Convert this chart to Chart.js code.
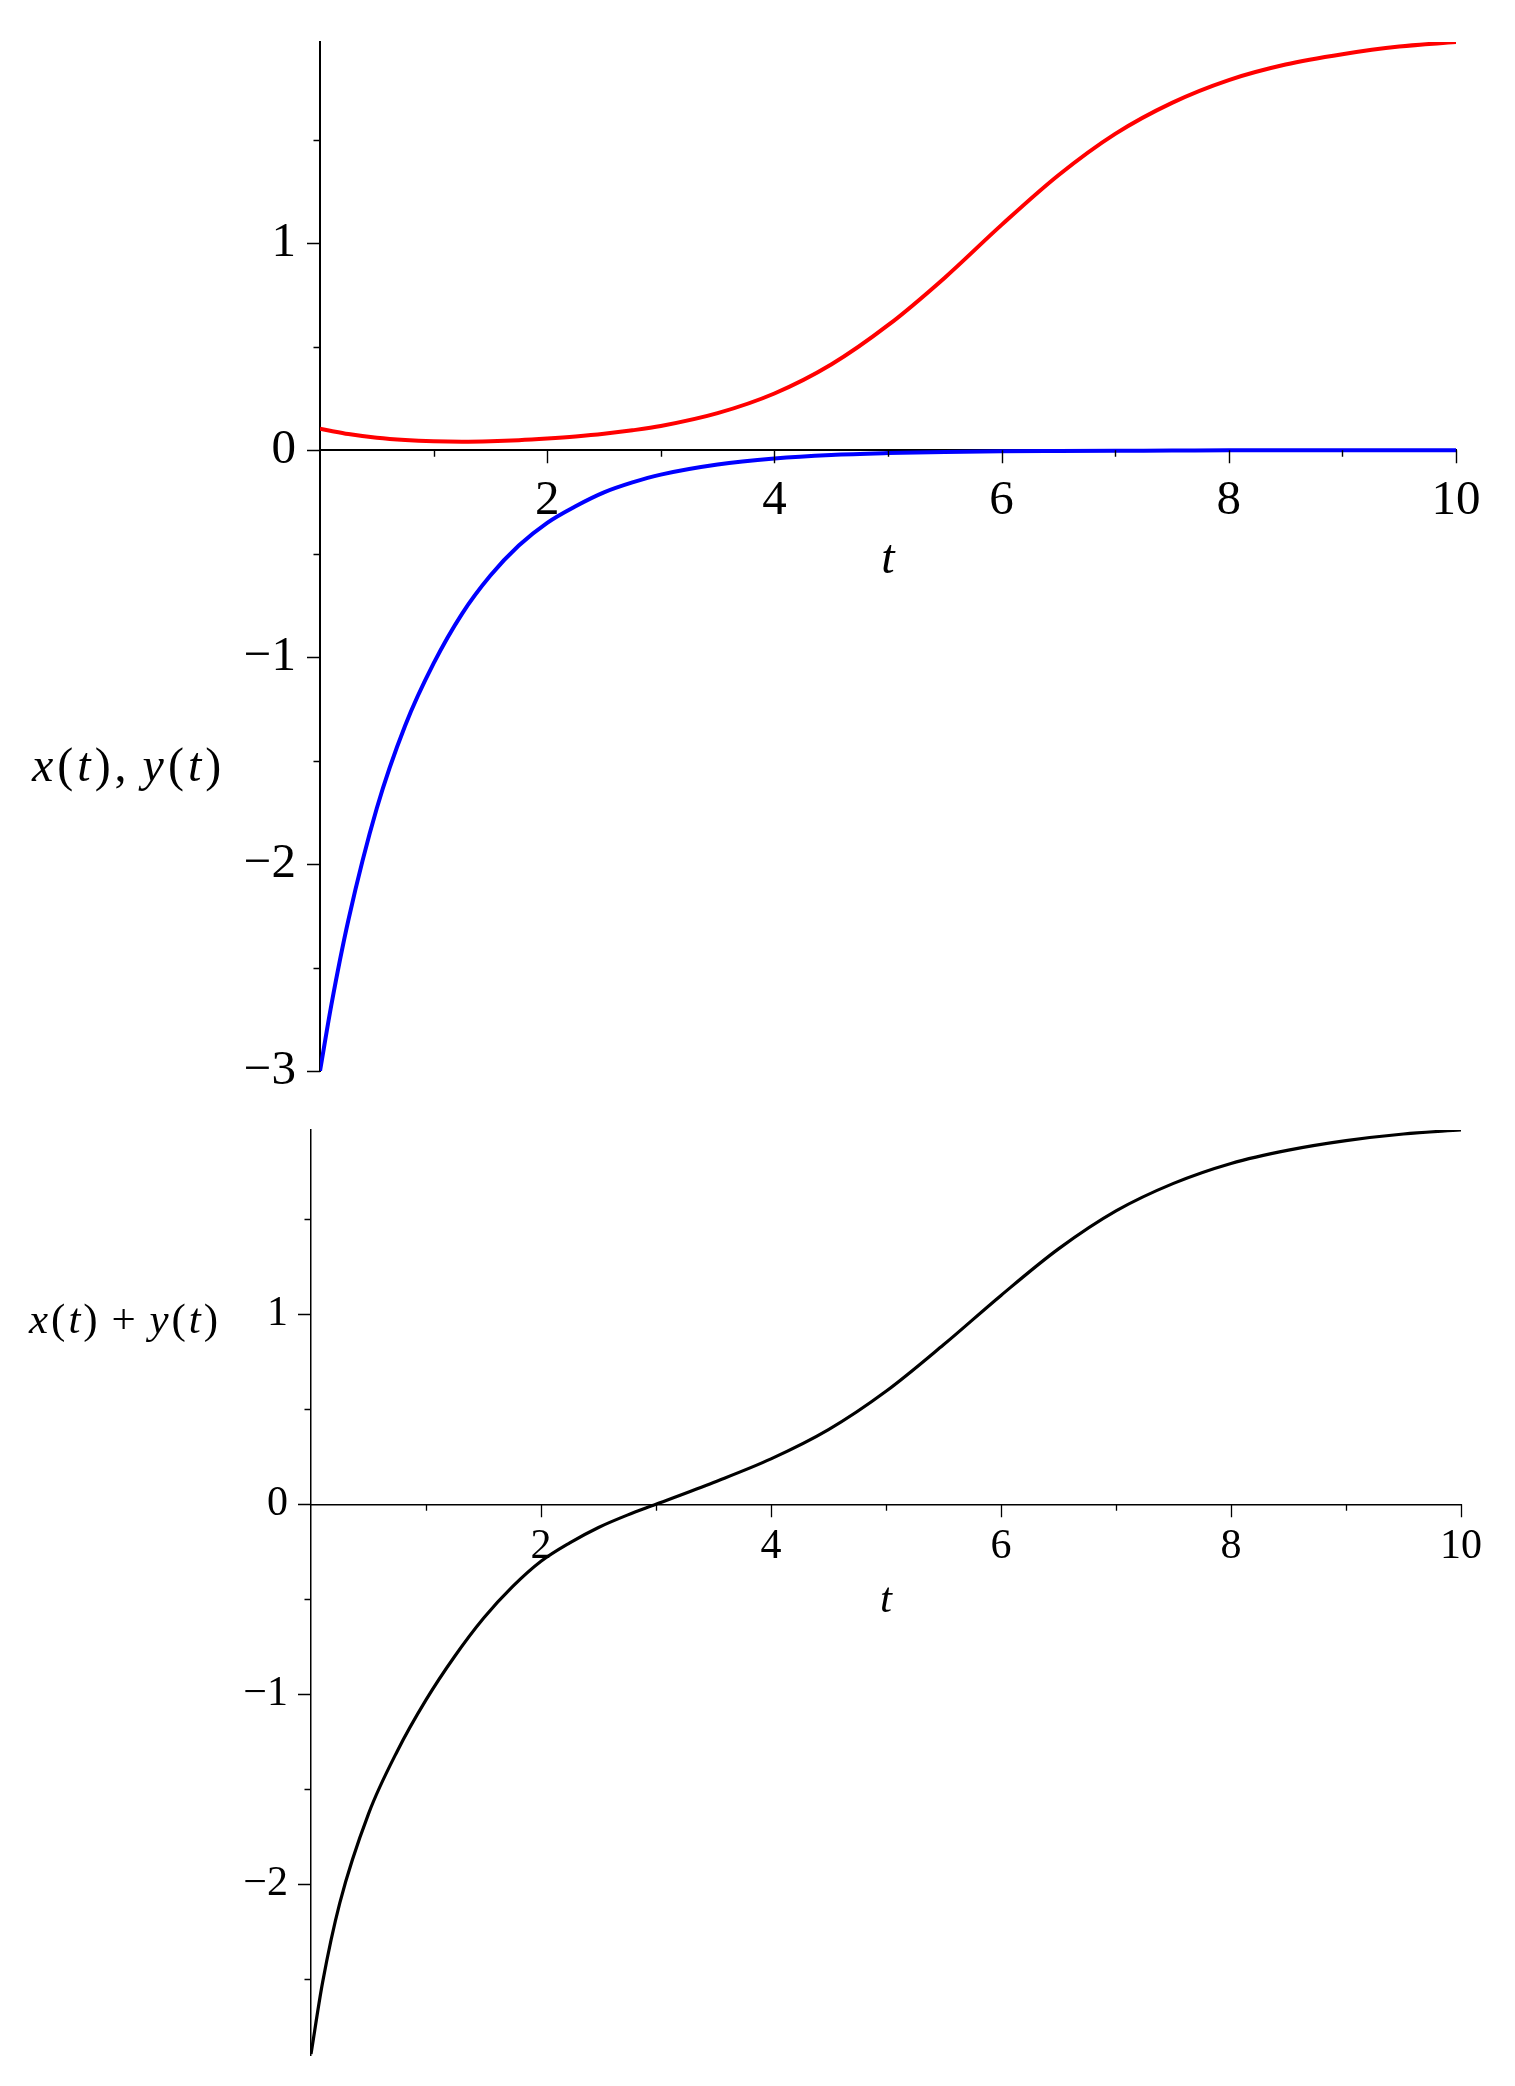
<!DOCTYPE html>
<html>
<head>
<meta charset="utf-8">
<title>x(t), y(t)</title>
<script src="https://cdn.jsdelivr.net/npm/chart.js@4.4.1/dist/chart.umd.min.js"></script>
<style>
  html, body { margin: 0; padding: 0; background: #fff; }
  #wrap { position: relative; width: 1515px; height: 2086px; }
  canvas { position: absolute; left: 0; }
  #plotTop { top: 0; }
  #plotBottom { top: 1100px; }
</style>
</head>
<body>
<div id="wrap">
  <canvas id="plotTop" width="1515" height="1100"></canvas>
  <canvas id="plotBottom" width="1515" height="986"></canvas>
</div>
<script>
// values
var tValues   = [0, 0.1, 0.25, 0.5, 0.75, 1, 1.25, 1.5, 1.75, 2, 2.25, 2.5, 2.75, 3, 3.5, 4, 4.5, 5, 5.5, 6, 6.5, 7, 7.5, 8, 8.5, 9, 9.5, 10];
var xValues   = [-3.0, -2.68, -2.27, -1.73, -1.33, -1.03, -0.79, -0.605, -0.46, -0.35, -0.27, -0.203, -0.155, -0.117, -0.068, -0.039, -0.022, -0.013, -0.0075, -0.004, -0.0025, -0.0015, -0.001, 0, 0, 0, 0, 0];
var yValues   = [0.105, 0.094, 0.079, 0.061, 0.05, 0.044, 0.042, 0.044, 0.049, 0.057, 0.067, 0.08, 0.097, 0.118, 0.18, 0.275, 0.415, 0.605, 0.835, 1.09, 1.33, 1.53, 1.68, 1.79, 1.865, 1.915, 1.952, 1.974];
var sumValues = [-2.895, -2.52, -2.10, -1.63, -1.30, -1.03, -0.80, -0.60, -0.435, -0.30, -0.203, -0.122, -0.057, 0, 0.115, 0.239, 0.393, 0.595, 0.84, 1.10, 1.345, 1.545, 1.69, 1.795, 1.865, 1.915, 1.95, 1.971];

// tick labels
var tTickLabels       = [2, 4, 6, 8, 10];
var topYTickLabels    = [-3, -2, -1, 0, 1];
var bottomYTickLabels = [-2, -1, 0, 1];

var SERIF = '"Liberation Serif", "Times New Roman", serif';

function points(vals) {
    return tValues.map(function (t, i) { return { x: t, y: vals[i] }; });
}

function fmt(v) {
    return v < 0 ? '\u2212' + (-v) : String(v);
}

// little ticks like maple draws them: long on whole values, short in between
var tickMarks = {
    id: 'tickMarks',
    afterDraw: function (chart, args, o) {
        var ctx = chart.ctx, xs = chart.scales.x, ys = chart.scales.y;
        var y0 = ys.getPixelForValue(0);
        var left = chart.chartArea.left;
        ctx.save();
        ctx.strokeStyle = '#000';
        ctx.lineWidth = o.width;
        ctx.beginPath();
        xs.ticks.forEach(function (t) {
            if (t.value === 0) return;
            var len = t.value % 2 === 0 ? o.major : o.minor;
            var px = Math.round(xs.getPixelForValue(t.value)) + 0.5;
            ctx.moveTo(px, y0);
            ctx.lineTo(px, y0 + len);
        });
        ys.ticks.forEach(function (t) {
            var len = Number.isInteger(t.value) ? o.major : o.minor;
            var py = Math.round(ys.getPixelForValue(t.value)) + 0.5;
            ctx.moveTo(left - len, py);
            ctx.lineTo(left, py);
        });
        ctx.stroke();
        ctx.restore();
    }
};

function drawRich(ctx, parts, x, y, size, gap) {
    parts.forEach(function (p) {
        ctx.font = (p.it ? 'italic ' : '') + size + 'px ' + SERIF;
        ctx.fillText(p.s, x, y);
        x += ctx.measureText(p.s).width + gap;
    });
}

var axisTitles = {
    id: 'axisTitles',
    afterDraw: function (chart, args, o) {
        var ctx = chart.ctx, xs = chart.scales.x, ys = chart.scales.y;
        var y0 = ys.getPixelForValue(0);
        ctx.save();
        ctx.fillStyle = '#000';
        ctx.textBaseline = 'alphabetic';
        ctx.textAlign = 'center';
        ctx.font = 'italic ' + o.size + 'px ' + SERIF;
        ctx.fillText('t', xs.getPixelForValue(5), y0 + o.tDrop);
        ctx.textAlign = 'left';
        drawRich(ctx, o.parts, o.left, ys.getPixelForValue(o.at), o.size, o.gap);
        ctx.restore();
    }
};

var Y_AXIS_BOX = 150;

function makeChart(id, datasets, s) {
    return new Chart(document.getElementById(id), {
        type: 'line',
        data: { datasets: datasets },
        options: {
            responsive: false,
            animation: false,
            devicePixelRatio: 1,
            layout: { padding: s.pad },
            elements: { point: { radius: 0 } },
            plugins: {
                legend: { display: false },
                tooltip: { enabled: false },
                tickMarks: { width: s.tickWidth, major: 13, minor: 6.5 },
                axisTitles: s.titles
            },
            scales: {
                x: {
                    type: 'linear', min: 0, max: 10,
                    position: { y: 0 },
                    afterFit: function (sc) { sc.paddingLeft = 0; sc.paddingRight = 0; },
                    grid: { drawOnChartArea: false, drawTicks: false },
                    border: { color: '#000', width: s.axisWidth },
                    ticks: {
                        stepSize: 1, autoSkip: false, maxRotation: 0,
                        color: '#000', padding: s.xPad,
                        font: { family: SERIF, size: s.font, lineHeight: 1 },
                        callback: function (v) { return tTickLabels.indexOf(v) >= 0 ? String(v) : ''; }
                    }
                },
                y: {
                    type: 'linear', min: s.yMin, max: s.yMax,
                    position: 'left',
                    afterFit: function (sc) {
                        sc.width = Y_AXIS_BOX;
                        sc.paddingTop = 0;
                        sc.paddingBottom = 0;
                    },
                    grid: { drawOnChartArea: false, drawTicks: false },
                    border: { color: '#000', width: s.axisWidth },
                    ticks: {
                        stepSize: 0.5, includeBounds: false, autoSkip: false, maxTicksLimit: 20,
                        color: '#000', padding: s.yPad,
                        font: { family: SERIF, size: s.font, lineHeight: 1 },
                        callback: function (v) { return s.yLabels.indexOf(v) >= 0 ? fmt(v) : ''; }
                    }
                }
            }
        },
        plugins: [tickMarks, axisTitles]
    });
}

var topChart = makeChart('plotTop', [
    { label: 'y(t)', data: points(yValues), borderColor: '#ff0000', borderWidth: 4, cubicInterpolationMode: 'monotone', fill: false },
    { label: 'x(t)', data: points(xValues), borderColor: '#0000ff', borderWidth: 4, cubicInterpolationMode: 'monotone', fill: false }
], {
    pad: { left: 320 - Y_AXIS_BOX, top: 42, right: 59, bottom: 29 },
    yMin: -3, yMax: 1.974, yLabels: topYTickLabels,
    font: 49, xPad: 26, yPad: 24, axisWidth: 2, tickWidth: 1.4,
    titles: {
        size: 48, tDrop: 123, left: 32, at: -1.597, gap: 4,
        parts: [{ s: 'x', it: true }, { s: '(' }, { s: 't', it: true }, { s: ')' }, { s: ', ' },
                { s: 'y', it: true }, { s: '(' }, { s: 't', it: true }, { s: ')' }]
    }
});

var bottomChart = makeChart('plotBottom', [
    { label: 'x(t)+y(t)', data: points(sumValues), borderColor: '#000000', borderWidth: 3.2, cubicInterpolationMode: 'monotone', fill: false }
], {
    pad: { left: 311 - Y_AXIS_BOX, top: 30, right: 54, bottom: 31 },
    yMin: -2.9, yMax: 1.971, yLabels: bottomYTickLabels,
    font: 42, xPad: 22, yPad: 23, axisWidth: 1.5, tickWidth: 1.3,
    titles: {
        size: 43, tDrop: 108, left: 29, at: 0.90, gap: 3,
        parts: [{ s: 'x', it: true }, { s: '(' }, { s: 't', it: true }, { s: ')' }, { s: ' + ' },
                { s: 'y', it: true }, { s: '(' }, { s: 't', it: true }, { s: ')' }]
    }
});
</script>
</body>
</html>
